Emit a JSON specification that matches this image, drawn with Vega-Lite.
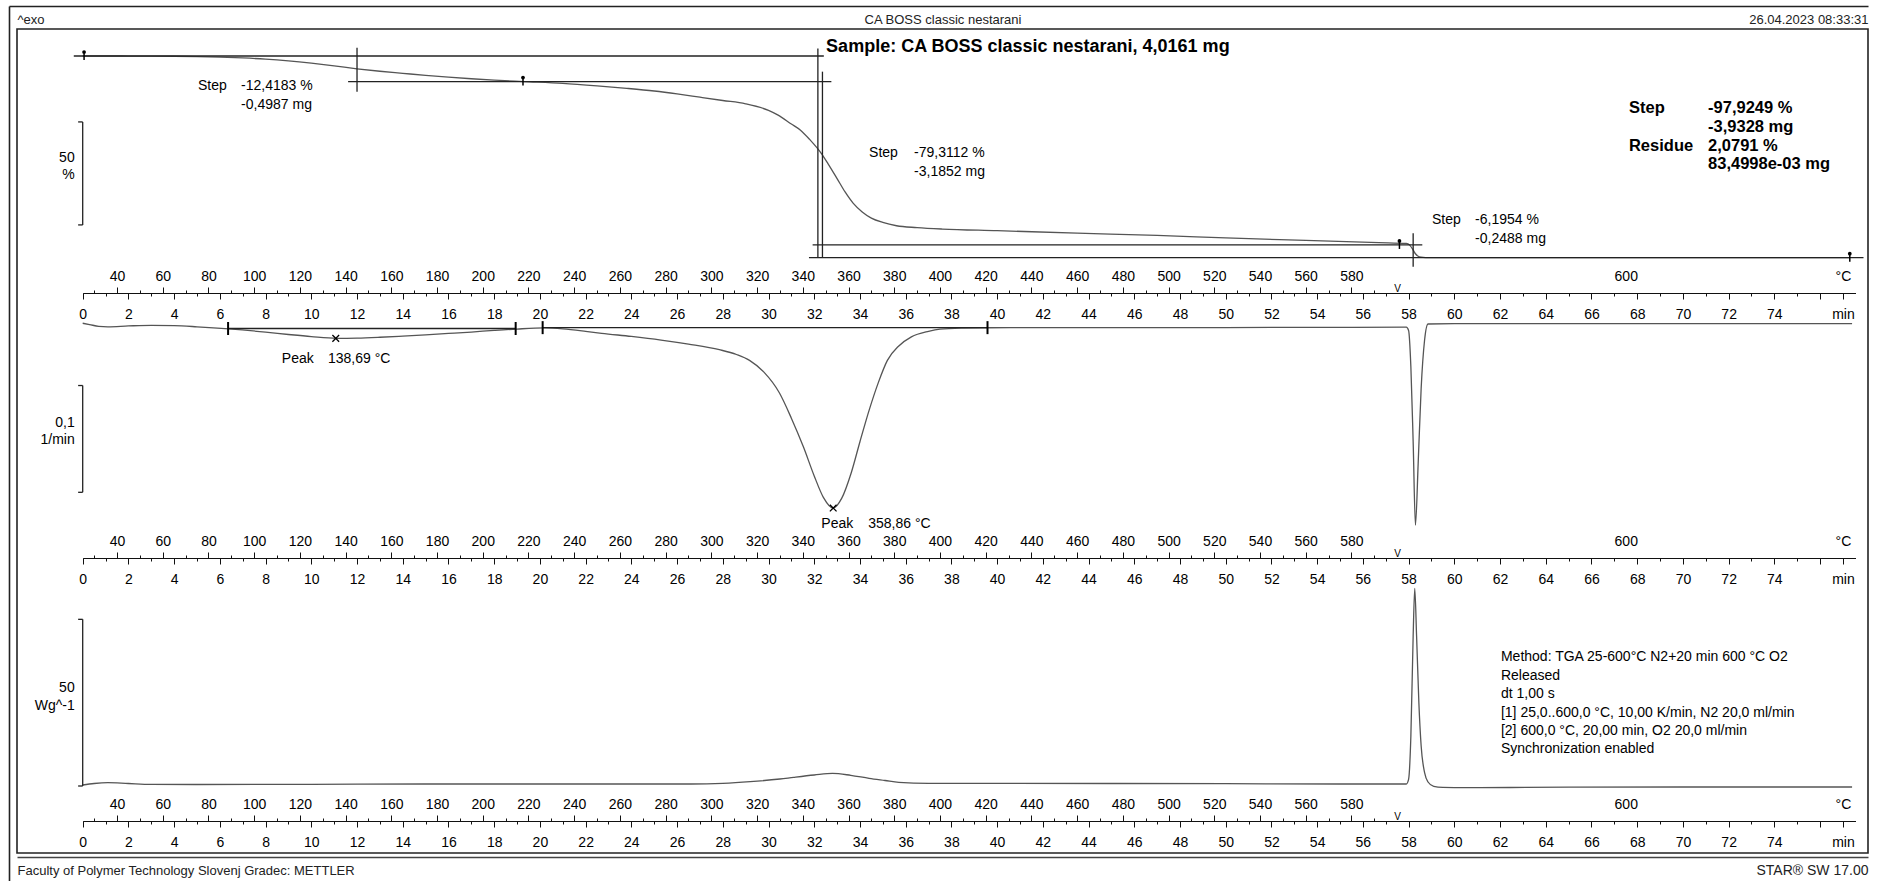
{
  "$schema": "https://vega.github.io/schema/vega-lite/v6.json",
  "width": 1851,
  "height": 824,
  "autosize": "none",
  "padding": {"left": 17, "top": 29, "right": 9, "bottom": 28},
  "background": "white",
  "datasets": {
    "tga": [{"t":0,"v":100},{"t":1,"v":100},{"t":2,"v":99.98},{"t":3,"v":99.95},{"t":4,"v":99.88},{"t":5,"v":99.72},{"t":6,"v":99.48},{"t":7,"v":99.05},{"t":8,"v":98.45},{"t":9,"v":97.6},{"t":10,"v":96.5},{"t":11,"v":95.2},{"t":12,"v":93.8},{"t":13,"v":92.6},{"t":14,"v":91.6},{"t":15,"v":90.6},{"t":16,"v":89.7},{"t":17,"v":88.95},{"t":18,"v":88.3},{"t":19.3,"v":87.6},{"t":21,"v":86.7},{"t":22.5,"v":85.5},{"t":23.8,"v":84.3},{"t":25,"v":83.0},{"t":26,"v":81.6},{"t":27,"v":80.0},{"t":28,"v":78.4},{"t":29,"v":76.8},{"t":30,"v":73.6},{"t":30.4,"v":71.4},{"t":31,"v":67.0},{"t":31.4,"v":64.0},{"t":31.8,"v":59.5},{"t":32.3,"v":52.9},{"t":32.6,"v":47.8},{"t":33,"v":40.5},{"t":33.35,"v":34.0},{"t":33.7,"v":28.6},{"t":34.1,"v":24.3},{"t":34.5,"v":21.3},{"t":35,"v":19.2},{"t":35.6,"v":17.6},{"t":36.5,"v":16.7},{"t":37.6,"v":16.0},{"t":40,"v":15.2},{"t":43.5,"v":14.0},{"t":47,"v":12.9},{"t":50,"v":11.7},{"t":53.5,"v":10.5},{"t":56.7,"v":9.4},{"t":57.9,"v":9.0},{"t":58.05,"v":8.2},{"t":58.2,"v":5.8},{"t":58.3,"v":4.0},{"t":58.42,"v":2.8},{"t":58.55,"v":2.35},{"t":58.75,"v":2.15},{"t":59.1,"v":2.09},{"t":77.3,"v":2.08}],
    "dtg": [{"t":0,"v":0.0007},{"t":0.3,"v":-0.0005},{"t":0.7,"v":-0.0022},{"t":1.1,"v":-0.0026},{"t":2,"v":-0.0018},{"t":3,"v":-0.0012},{"t":4,"v":-0.0015},{"t":5,"v":-0.0026},{"t":6.4,"v":-0.0046},{"t":8,"v":-0.0076},{"t":9,"v":-0.0098},{"t":10,"v":-0.0118},{"t":11.1,"v":-0.0134},{"t":12,"v":-0.0132},{"t":13,"v":-0.0124},{"t":14,"v":-0.0113},{"t":15,"v":-0.0101},{"t":16,"v":-0.0088},{"t":17,"v":-0.0075},{"t":18,"v":-0.006},{"t":19,"v":-0.0047},{"t":20.2,"v":-0.0037},{"t":21,"v":-0.0045},{"t":22,"v":-0.0068},{"t":22.7,"v":-0.0087},{"t":24,"v":-0.0116},{"t":25.3,"v":-0.015},{"t":26.5,"v":-0.0188},{"t":27.85,"v":-0.024},{"t":28.6,"v":-0.0285},{"t":29.17,"v":-0.034},{"t":29.8,"v":-0.045},{"t":30.48,"v":-0.0645},{"t":31,"v":-0.088},{"t":31.53,"v":-0.115},{"t":32,"v":-0.142},{"t":32.4,"v":-0.162},{"t":32.83,"v":-0.172},{"t":33.2,"v":-0.163},{"t":33.62,"v":-0.139},{"t":34,"v":-0.11},{"t":34.41,"v":-0.08},{"t":34.8,"v":-0.055},{"t":35.2,"v":-0.034},{"t":35.7,"v":-0.0205},{"t":36.25,"v":-0.012},{"t":37,"v":-0.0068},{"t":37.5,"v":-0.0048},{"t":38.5,"v":-0.0038},{"t":39.6,"v":-0.0035},{"t":45,"v":-0.0034},{"t":50,"v":-0.0033},{"t":55,"v":-0.0031},{"t":57.9,"v":-0.003},{"t":58.0,"v":-0.006},{"t":58.1,"v":-0.04},{"t":58.2,"v":-0.11},{"t":58.3,"v":-0.188},{"t":58.42,"v":-0.13},{"t":58.55,"v":-0.06},{"t":58.7,"v":-0.015},{"t":58.85,"v":0},{"t":60,"v":0.0003},{"t":77.4,"v":0.0003}],
    "hf": [{"t":0,"v":0.3},{"t":0.5,"v":0.75},{"t":1.1,"v":1.0},{"t":2,"v":0.75},{"t":3,"v":0.5},{"t":5,"v":0.45},{"t":10,"v":0.5},{"t":15,"v":0.6},{"t":20,"v":0.6},{"t":26.6,"v":0.6},{"t":28,"v":0.8},{"t":29.2,"v":1.3},{"t":30.5,"v":2.1},{"t":31.1,"v":2.6},{"t":32,"v":3.3},{"t":32.8,"v":3.8},{"t":33.6,"v":3.2},{"t":34.4,"v":2.3},{"t":35.1,"v":1.65},{"t":35.7,"v":1.1},{"t":37,"v":0.8},{"t":40,"v":0.8},{"t":45,"v":0.75},{"t":50,"v":0.7},{"t":55,"v":0.6},{"t":57.9,"v":0.6},{"t":58.0,"v":2},{"t":58.1,"v":15},{"t":58.2,"v":45},{"t":58.27,"v":59.3},{"t":58.35,"v":45},{"t":58.45,"v":25},{"t":58.55,"v":12},{"t":58.7,"v":4},{"t":58.85,"v":1.2},{"t":59.1,"v":-0.1},{"t":59.5,"v":-0.4},{"t":60.5,"v":-0.5},{"t":65,"v":-0.35},{"t":70,"v":-0.3},{"t":77.4,"v":-0.3}],
    "tgaLines": [
      {"t1":-0.39,"t2":32.42,"v1":100,"v2":100},
      {"t1":11.61,"t2":32.75,"v1":87.58,"v2":87.58},
      {"t1":12.0,"t2":12.0,"v1":104.0,"v2":82.7},
      {"t1":32.16,"t2":32.16,"v1":103.7,"v2":2.0},
      {"t1":32.36,"t2":32.36,"v1":92.4,"v2":2.0},
      {"t1":31.93,"t2":58.6,"v1":8.27,"v2":8.27},
      {"t1":31.77,"t2":77.9,"v1":2.08,"v2":2.08},
      {"t1":58.2,"t2":58.2,"v1":13.9,"v2":-2.3},
      {"t1":0,"t2":0,"v1":68,"v2":18},
      {"t1":-0.2,"t2":0,"v1":68,"v2":68},
      {"t1":-0.2,"t2":0,"v1":18,"v2":18}
    ],
    "tgaPins": [{"t":0.06,"v":100},{"t":19.26,"v":87.58},{"t":57.6,"v":8.27},{"t":77.3,"v":2.08}],
    "tgaText": [
      {"t":5.04,"v":85.44,"text":"Step"},{"t":6.93,"v":85.44,"text":"-12,4183 %"},{"t":6.93,"v":76.2,"text":"-0,4987 mg"},
      {"t":34.4,"v":52.91,"text":"Step"},{"t":36.37,"v":52.91,"text":"-79,3112 %"},{"t":36.37,"v":43.69,"text":"-3,1852 mg"},
      {"t":59.02,"v":20.39,"text":"Step"},{"t":60.91,"v":20.39,"text":"-6,1954 %"},{"t":60.91,"v":11.17,"text":"-0,2488 mg"}
    ],
    "tgaBold": [
      {"t":67.64,"v":74.76,"text":"Step"},{"t":71.1,"v":74.76,"text":"-97,9249 %"},{"t":71.1,"v":65.53,"text":"-3,9328 mg"},
      {"t":67.64,"v":56.31,"text":"Residue"},{"t":71.1,"v":56.31,"text":"2,0791 %"},{"t":71.1,"v":47.57,"text":"83,4998e-03 mg"}
    ],
    "tgaTitle": [{"t":32.52,"v":104.37,"text":"Sample: CA BOSS classic nestarani, 4,0161 mg"}],
    "tgaScale": [{"t":0,"v":50.5,"text":"50"},{"t":0,"v":42.2,"text":"%"}],
    "dtgLines": [
      {"t1":6.36,"t2":18.94,"v1":-0.0042,"v2":-0.0042},
      {"t1":20.12,"t2":39.58,"v1":-0.0034,"v2":-0.0034},
      {"t1":0,"t2":0,"v1":-0.0575,"v2":-0.1573},
      {"t1":-0.2,"t2":0,"v1":-0.0575,"v2":-0.0575},
      {"t1":-0.2,"t2":0,"v1":-0.1573,"v2":-0.1573}
    ],
    "dtgMarks": [{"t":6.36,"v":-0.0042},{"t":18.94,"v":-0.0042},{"t":20.12,"v":-0.0034},{"t":39.58,"v":-0.0034}],
    "dtgPeaks": [{"t":11.07,"v":-0.0134},{"t":32.83,"v":-0.172}],
    "dtgText": [
      {"t":8.71,"v":-0.033,"text":"Peak"},{"t":10.73,"v":-0.033,"text":"138,69 °C"},
      {"t":32.31,"v":-0.187,"text":"Peak"},{"t":34.36,"v":-0.187,"text":"358,86 °C"}
    ],
    "dtgScale": [{"t":0,"v":-0.0928,"text":"0,1"},{"t":0,"v":-0.108,"text":"1/min"}],
    "hfLines": [
      {"t1":0,"t2":0,"v1":50,"v2":0},
      {"t1":-0.2,"t2":0,"v1":50,"v2":50},
      {"t1":-0.2,"t2":0,"v1":0,"v2":0}
    ],
    "hfText": [
      {"t":62.04,"v":38.6,"text":"Method: TGA 25-600°C N2+20 min 600 °C O2"},
      {"t":62.04,"v":33.1,"text":"Released"},
      {"t":62.04,"v":27.5,"text":"dt 1,00 s"},
      {"t":62.04,"v":22.0,"text":"[1] 25,0..600,0 °C, 10,00 K/min, N2 20,0 ml/min"},
      {"t":62.04,"v":16.5,"text":"[2] 600,0 °C, 20,00 min, O2 20,0 ml/min"},
      {"t":62.04,"v":11.0,"text":"Synchronization enabled"}
    ],
    "hfScale": [{"t":0,"v":29.4,"text":"50"},{"t":0,"v":24.1,"text":"Wg^-1"}],
    "frame": [{"u":0},{"u":1}]
  },
  "layer": [
    {
      "layer": [
        {
          "data": {"name": "tga"},
          "mark": {"type": "line", "interpolate": "monotone", "color": "#555", "strokeWidth": 1.3},
          "encoding": {
            "x": {"field": "t", "type": "quantitative", "scale": {"domain": [0, 77.55], "range": [65.7, 1838.5], "nice": false, "zero": false},
              "axis": {"orient": "bottom", "offset": -560, "values": [0,2,4,6,8,10,12,14,16,18,20,22,24,26,28,30,32,34,36,38,40,42,44,46,48,50,52,54,56,58,60,62,64,66,68,70,72,74,76,77], "labelExpr": "datum.value == 77 ? 'min' : (datum.value == 76 ? '' : datum.label)", "tickSize": 6, "labelPadding": 8, "domain": true, "title": null}},
            "y": {"field": "v", "type": "quantitative", "scale": {"domain": [0, 100], "range": [233, 27], "nice": false, "zero": false}, "axis": null}
          }
        },
        {
          "data": {"name": "tgaLines"},
          "mark": {"type": "rule", "color": "#222", "strokeWidth": 1.3},
          "encoding": {
            "x": {"field": "t1", "type": "quantitative", "scale": {"domain": [0, 77.55], "range": [65.7, 1838.5], "nice": false, "zero": false},
              "axis": {"orient": "bottom", "offset": -560, "values": [1,3,5,7,9,11,13,15,17,19,21,23,25,27,29,31,33,35,37,39,41,43,45,47,49,51,53,55,57,59,61,63,65,67,69,71,73,75], "tickSize": 3, "labels": false, "domain": false, "title": null}},
            "x2": {"field": "t2"},
            "y": {"field": "v1", "type": "quantitative", "scale": {"domain": [0, 100], "range": [233, 27], "nice": false, "zero": false}, "axis": null},
            "y2": {"field": "v2"}
          }
        },
        {
          "data": {"name": "tgaPins"},
          "mark": {"type": "tick", "orient": "vertical", "size": 8, "thickness": 1.5, "color": "#000", "opacity": 1},
          "encoding": {
            "x": {"field": "t", "type": "quantitative", "scale": {"domain": [0, 77.55], "range": [65.7, 1838.5], "nice": false, "zero": false},
              "axis": {"orient": "top", "offset": -264, "values": [1.5,3.5,5.5,7.5,9.5,11.5,13.5,15.5,17.5,19.5,21.5,23.5,25.5,27.5,29.5,31.5,33.5,35.5,37.5,39.5,41.5,43.5,45.5,47.5,49.5,51.5,53.5,55.5,57.5,67.5,77], "labelExpr": "datum.value == 77 ? '°C' : (datum.value == 67.5 ? '600' : (datum.value == 57.5 ? 'V' : format(datum.value * 10 + 25, 'd')))", "tickSize": 6, "labelPadding": 4, "domain": false, "title": null,
                "tickOpacity": {"condition": {"test": "datum.value > 57", "value": 0}, "value": 1},
                "labelBaseline": {"condition": {"test": "datum.value == 57.5", "value": "top"}, "value": "bottom"},
                "labelFontSize": {"condition": {"test": "datum.value == 57.5", "value": 10}, "value": 14}}},
            "y": {"field": "v", "type": "quantitative", "scale": {"domain": [0, 100], "range": [233, 27], "nice": false, "zero": false}, "axis": null}
          }
        },
        {
          "data": {"name": "tgaPins"},
          "mark": {"type": "point", "shape": "circle", "filled": true, "size": 14, "color": "#000", "opacity": 1, "yOffset": -4},
          "encoding": {
            "x": {"field": "t", "type": "quantitative", "scale": {"domain": [0, 77.55], "range": [65.7, 1838.5], "nice": false, "zero": false},
              "axis": {"orient": "top", "offset": -264, "values": [0.5,2.5,4.5,6.5,8.5,10.5,12.5,14.5,16.5,18.5,20.5,22.5,24.5,26.5,28.5,30.5,32.5,34.5,36.5,38.5,40.5,42.5,44.5,46.5,48.5,50.5,52.5,54.5,56.5], "tickSize": 3, "labels": false, "domain": false, "title": null}},
            "y": {"field": "v", "type": "quantitative", "scale": {"domain": [0, 100], "range": [233, 27], "nice": false, "zero": false}, "axis": null}
          }
        },
        {
          "data": {"name": "tgaText"},
          "mark": {"type": "text", "align": "left", "baseline": "middle", "fontSize": 14, "color": "#000"},
          "encoding": {
            "x": {"field": "t", "type": "quantitative", "scale": {"domain": [0, 77.55], "range": [65.7, 1838.5], "nice": false, "zero": false}, "axis": null},
            "y": {"field": "v", "type": "quantitative", "scale": {"domain": [0, 100], "range": [233, 27], "nice": false, "zero": false}, "axis": null},
            "text": {"field": "text", "type": "nominal"}
          }
        },
        {
          "data": {"name": "tgaBold"},
          "mark": {"type": "text", "align": "left", "baseline": "middle", "fontSize": 16.5, "fontWeight": "bold", "color": "#000"},
          "encoding": {
            "x": {"field": "t", "type": "quantitative", "scale": {"domain": [0, 77.55], "range": [65.7, 1838.5], "nice": false, "zero": false}, "axis": null},
            "y": {"field": "v", "type": "quantitative", "scale": {"domain": [0, 100], "range": [233, 27], "nice": false, "zero": false}, "axis": null},
            "text": {"field": "text", "type": "nominal"}
          }
        },
        {
          "data": {"name": "tgaTitle"},
          "mark": {"type": "text", "align": "left", "baseline": "middle", "fontSize": 18, "fontWeight": "bold", "color": "#000"},
          "encoding": {
            "x": {"field": "t", "type": "quantitative", "scale": {"domain": [0, 77.55], "range": [65.7, 1838.5], "nice": false, "zero": false}, "axis": null},
            "y": {"field": "v", "type": "quantitative", "scale": {"domain": [0, 100], "range": [233, 27], "nice": false, "zero": false}, "axis": null},
            "text": {"field": "text", "type": "nominal"}
          }
        },
        {
          "data": {"name": "tgaScale"},
          "mark": {"type": "text", "align": "right", "baseline": "middle", "fontSize": 14, "color": "#000", "dx": -8},
          "encoding": {
            "x": {"field": "t", "type": "quantitative", "scale": {"domain": [0, 77.55], "range": [65.7, 1838.5], "nice": false, "zero": false}, "axis": null},
            "y": {"field": "v", "type": "quantitative", "scale": {"domain": [0, 100], "range": [233, 27], "nice": false, "zero": false}, "axis": null},
            "text": {"field": "text", "type": "nominal"}
          }
        }
      ],
      "resolve": {"axis": {"x": "independent", "y": "independent"}}
    },
    {
      "layer": [
        {
          "data": {"name": "dtg"},
          "mark": {"type": "line", "interpolate": "monotone", "color": "#555", "strokeWidth": 1.3},
          "encoding": {
            "x": {"field": "t", "type": "quantitative", "scale": {"domain": [0, 77.55], "range": [65.7, 1838.5], "nice": false, "zero": false},
              "axis": {"orient": "bottom", "offset": -295, "values": [0,2,4,6,8,10,12,14,16,18,20,22,24,26,28,30,32,34,36,38,40,42,44,46,48,50,52,54,56,58,60,62,64,66,68,70,72,74,76,77], "labelExpr": "datum.value == 77 ? 'min' : (datum.value == 76 ? '' : datum.label)", "tickSize": 6, "labelPadding": 8, "domain": true, "title": null}},
            "y": {"field": "v", "type": "quantitative", "scale": {"domain": [-0.2, 0.02], "range": [509, 273.6], "nice": false, "zero": false}, "axis": null}
          }
        },
        {
          "data": {"name": "dtgLines"},
          "mark": {"type": "rule", "color": "#222", "strokeWidth": 1.3},
          "encoding": {
            "x": {"field": "t1", "type": "quantitative", "scale": {"domain": [0, 77.55], "range": [65.7, 1838.5], "nice": false, "zero": false},
              "axis": {"orient": "bottom", "offset": -295, "values": [1,3,5,7,9,11,13,15,17,19,21,23,25,27,29,31,33,35,37,39,41,43,45,47,49,51,53,55,57,59,61,63,65,67,69,71,73,75], "tickSize": 3, "labels": false, "domain": false, "title": null}},
            "x2": {"field": "t2"},
            "y": {"field": "v1", "type": "quantitative", "scale": {"domain": [-0.2, 0.02], "range": [509, 273.6], "nice": false, "zero": false}, "axis": null},
            "y2": {"field": "v2"}
          }
        },
        {
          "data": {"name": "dtgMarks"},
          "mark": {"type": "tick", "orient": "vertical", "size": 13, "thickness": 2, "color": "#000", "opacity": 1},
          "encoding": {
            "x": {"field": "t", "type": "quantitative", "scale": {"domain": [0, 77.55], "range": [65.7, 1838.5], "nice": false, "zero": false},
              "axis": {"orient": "top", "offset": -529, "values": [1.5,3.5,5.5,7.5,9.5,11.5,13.5,15.5,17.5,19.5,21.5,23.5,25.5,27.5,29.5,31.5,33.5,35.5,37.5,39.5,41.5,43.5,45.5,47.5,49.5,51.5,53.5,55.5,57.5,67.5,77], "labelExpr": "datum.value == 77 ? '°C' : (datum.value == 67.5 ? '600' : (datum.value == 57.5 ? 'V' : format(datum.value * 10 + 25, 'd')))", "tickSize": 6, "labelPadding": 4, "domain": false, "title": null,
                "tickOpacity": {"condition": {"test": "datum.value > 57", "value": 0}, "value": 1},
                "labelBaseline": {"condition": {"test": "datum.value == 57.5", "value": "top"}, "value": "bottom"},
                "labelFontSize": {"condition": {"test": "datum.value == 57.5", "value": 10}, "value": 14}}},
            "y": {"field": "v", "type": "quantitative", "scale": {"domain": [-0.2, 0.02], "range": [509, 273.6], "nice": false, "zero": false}, "axis": null}
          }
        },
        {
          "data": {"name": "dtgPeaks"},
          "mark": {"type": "point", "shape": "M-1,-1L1,1M-1,1L1,-1", "filled": false, "size": 45, "strokeWidth": 1.3, "color": "#000", "opacity": 1},
          "encoding": {
            "x": {"field": "t", "type": "quantitative", "scale": {"domain": [0, 77.55], "range": [65.7, 1838.5], "nice": false, "zero": false},
              "axis": {"orient": "top", "offset": -529, "values": [0.5,2.5,4.5,6.5,8.5,10.5,12.5,14.5,16.5,18.5,20.5,22.5,24.5,26.5,28.5,30.5,32.5,34.5,36.5,38.5,40.5,42.5,44.5,46.5,48.5,50.5,52.5,54.5,56.5], "tickSize": 3, "labels": false, "domain": false, "title": null}},
            "y": {"field": "v", "type": "quantitative", "scale": {"domain": [-0.2, 0.02], "range": [509, 273.6], "nice": false, "zero": false}, "axis": null}
          }
        },
        {
          "data": {"name": "dtgText"},
          "mark": {"type": "text", "align": "left", "baseline": "middle", "fontSize": 14, "color": "#000"},
          "encoding": {
            "x": {"field": "t", "type": "quantitative", "scale": {"domain": [0, 77.55], "range": [65.7, 1838.5], "nice": false, "zero": false}, "axis": null},
            "y": {"field": "v", "type": "quantitative", "scale": {"domain": [-0.2, 0.02], "range": [509, 273.6], "nice": false, "zero": false}, "axis": null},
            "text": {"field": "text", "type": "nominal"}
          }
        },
        {
          "data": {"name": "dtgScale"},
          "mark": {"type": "text", "align": "right", "baseline": "middle", "fontSize": 14, "color": "#000", "dx": -8},
          "encoding": {
            "x": {"field": "t", "type": "quantitative", "scale": {"domain": [0, 77.55], "range": [65.7, 1838.5], "nice": false, "zero": false}, "axis": null},
            "y": {"field": "v", "type": "quantitative", "scale": {"domain": [-0.2, 0.02], "range": [509, 273.6], "nice": false, "zero": false}, "axis": null},
            "text": {"field": "text", "type": "nominal"}
          }
        }
      ],
      "resolve": {"axis": {"x": "independent", "y": "independent"}}
    },
    {
      "layer": [
        {
          "data": {"name": "hf"},
          "mark": {"type": "line", "interpolate": "monotone", "color": "#555", "strokeWidth": 1.3},
          "encoding": {
            "x": {"field": "t", "type": "quantitative", "scale": {"domain": [0, 77.55], "range": [65.7, 1838.5], "nice": false, "zero": false},
              "axis": {"orient": "bottom", "offset": -32, "values": [0,2,4,6,8,10,12,14,16,18,20,22,24,26,28,30,32,34,36,38,40,42,44,46,48,50,52,54,56,58,60,62,64,66,68,70,72,74,76,77], "labelExpr": "datum.value == 77 ? 'min' : (datum.value == 76 ? '' : datum.label)", "tickSize": 6, "labelPadding": 8, "domain": true, "title": null}},
            "y": {"field": "v", "type": "quantitative", "scale": {"domain": [0, 60], "range": [757, 557], "nice": false, "zero": false}, "axis": null}
          }
        },
        {
          "data": {"name": "hfLines"},
          "mark": {"type": "rule", "color": "#222", "strokeWidth": 1.3},
          "encoding": {
            "x": {"field": "t1", "type": "quantitative", "scale": {"domain": [0, 77.55], "range": [65.7, 1838.5], "nice": false, "zero": false},
              "axis": {"orient": "bottom", "offset": -32, "values": [1,3,5,7,9,11,13,15,17,19,21,23,25,27,29,31,33,35,37,39,41,43,45,47,49,51,53,55,57,59,61,63,65,67,69,71,73,75], "tickSize": 3, "labels": false, "domain": false, "title": null}},
            "x2": {"field": "t2"},
            "y": {"field": "v1", "type": "quantitative", "scale": {"domain": [0, 60], "range": [757, 557], "nice": false, "zero": false}, "axis": null},
            "y2": {"field": "v2"}
          }
        },
        {
          "data": {"name": "hfText"},
          "mark": {"type": "text", "align": "left", "baseline": "middle", "fontSize": 14, "color": "#000"},
          "encoding": {
            "x": {"field": "t", "type": "quantitative", "scale": {"domain": [0, 77.55], "range": [65.7, 1838.5], "nice": false, "zero": false},
              "axis": {"orient": "top", "offset": -792, "values": [1.5,3.5,5.5,7.5,9.5,11.5,13.5,15.5,17.5,19.5,21.5,23.5,25.5,27.5,29.5,31.5,33.5,35.5,37.5,39.5,41.5,43.5,45.5,47.5,49.5,51.5,53.5,55.5,57.5,67.5,77], "labelExpr": "datum.value == 77 ? '°C' : (datum.value == 67.5 ? '600' : (datum.value == 57.5 ? 'V' : format(datum.value * 10 + 25, 'd')))", "tickSize": 6, "labelPadding": 4, "domain": false, "title": null,
                "tickOpacity": {"condition": {"test": "datum.value > 57", "value": 0}, "value": 1},
                "labelBaseline": {"condition": {"test": "datum.value == 57.5", "value": "top"}, "value": "bottom"},
                "labelFontSize": {"condition": {"test": "datum.value == 57.5", "value": 10}, "value": 14}}},
            "y": {"field": "v", "type": "quantitative", "scale": {"domain": [0, 60], "range": [757, 557], "nice": false, "zero": false}, "axis": null},
            "text": {"field": "text", "type": "nominal"}
          }
        },
        {
          "data": {"name": "hfScale"},
          "mark": {"type": "text", "align": "right", "baseline": "middle", "fontSize": 14, "color": "#000", "dx": -8},
          "encoding": {
            "x": {"field": "t", "type": "quantitative", "scale": {"domain": [0, 77.55], "range": [65.7, 1838.5], "nice": false, "zero": false},
              "axis": {"orient": "top", "offset": -792, "values": [0.5,2.5,4.5,6.5,8.5,10.5,12.5,14.5,16.5,18.5,20.5,22.5,24.5,26.5,28.5,30.5,32.5,34.5,36.5,38.5,40.5,42.5,44.5,46.5,48.5,50.5,52.5,54.5,56.5], "tickSize": 3, "labels": false, "domain": false, "title": null}},
            "y": {"field": "v", "type": "quantitative", "scale": {"domain": [0, 60], "range": [757, 557], "nice": false, "zero": false}, "axis": null},
            "text": {"field": "text", "type": "nominal"}
          }
        }
      ],
      "resolve": {"axis": {"x": "independent", "y": "independent"}}
    },
    {
      "data": {"name": "frame"},
      "layer": [
        {
          "mark": {"type": "point", "opacity": 0},
          "encoding": {
            "x": {"field": "u", "type": "quantitative", "scale": {"domain": [0, 1], "nice": false, "zero": false},
              "axis": {"orient": "top", "offset": 0, "domain": false, "ticks": false, "labels": false, "title": "^exo", "titleAnchor": "start", "titleBaseline": "middle", "titleY": -10}},
            "y": {"field": "u", "type": "quantitative", "scale": {"domain": [0, 1], "range": [852, -23], "nice": false, "zero": false},
              "axis": {"orient": "left", "offset": 8, "domain": true, "domainWidth": 1.6, "domainColor": "#222", "ticks": false, "labels": false, "title": null}}
          }
        },
        {
          "mark": {"type": "point", "opacity": 0},
          "encoding": {
            "x": {"field": "u", "type": "quantitative", "scale": {"domain": [0, 1], "nice": false, "zero": false},
              "axis": {"orient": "top", "offset": 0, "domain": false, "ticks": false, "labels": false, "title": "CA BOSS classic nestarani", "titleAnchor": "middle", "titleBaseline": "middle", "titleY": -10}}
          }
        },
        {
          "mark": {"type": "point", "opacity": 0},
          "encoding": {
            "x": {"field": "u", "type": "quantitative", "scale": {"domain": [0, 1], "nice": false, "zero": false},
              "axis": {"orient": "top", "offset": 0, "domain": false, "ticks": false, "labels": false, "title": "26.04.2023 08:33:31", "titleAnchor": "end", "titleBaseline": "middle", "titleY": -10}}
          }
        },
        {
          "mark": {"type": "point", "opacity": 0},
          "encoding": {
            "x": {"field": "u", "type": "quantitative", "scale": {"domain": [0, 1], "nice": false, "zero": false},
              "axis": {"orient": "bottom", "offset": 0, "domain": false, "ticks": false, "labels": false, "title": "Faculty of Polymer Technology Slovenj Gradec: METTLER", "titleAnchor": "start", "titleBaseline": "middle", "titleY": 17}}
          }
        },
        {
          "mark": {"type": "point", "opacity": 0},
          "encoding": {
            "x": {"field": "u", "type": "quantitative", "scale": {"domain": [0, 1], "nice": false, "zero": false},
              "axis": {"orient": "bottom", "offset": 0, "domain": false, "ticks": false, "labels": false, "title": "STAR® SW 17.00", "titleAnchor": "end", "titleBaseline": "middle", "titleY": 17, "titleFontSize": 14}}
          }
        },
        {
          "mark": {"type": "point", "opacity": 0},
          "encoding": {
            "x": {"field": "u", "type": "quantitative", "scale": {"domain": [0, 1], "range": [-8, 1851], "nice": false, "zero": false},
              "axis": {"orient": "top", "offset": 23, "domain": true, "domainWidth": 1.6, "domainColor": "#222", "ticks": false, "labels": false, "title": null}}
          }
        },
        {
          "mark": {"type": "point", "opacity": 0},
          "encoding": {
            "x": {"field": "u", "type": "quantitative", "scale": {"domain": [0, 1], "nice": false, "zero": false},
              "axis": {"orient": "bottom", "offset": 4, "domain": true, "domainWidth": 1.4, "domainColor": "#444", "ticks": false, "labels": false, "title": null}}
          }
        }
      ],
      "resolve": {"scale": {"x": "independent", "y": "independent"}, "axis": {"x": "independent", "y": "independent"}}
    }
  ],
  "resolve": {"scale": {"x": "independent", "y": "independent"}, "axis": {"x": "independent", "y": "independent"}},
  "config": {
    "view": {"stroke": "#222", "strokeWidth": 1.6},
    "font": "Liberation Sans",
    "axis": {"grid": false, "domainColor": "#111", "domainWidth": 1.2, "tickColor": "#111", "tickWidth": 1, "labelFont": "Liberation Sans", "labelFontSize": 14, "labelColor": "#000", "labelFlush": false, "labelOverlap": false, "labelBound": false, "titleFont": "Liberation Sans", "titleFontSize": 13, "titleFontWeight": "normal", "titleColor": "#222"},
    "text": {"font": "Liberation Sans"}
  }
}
